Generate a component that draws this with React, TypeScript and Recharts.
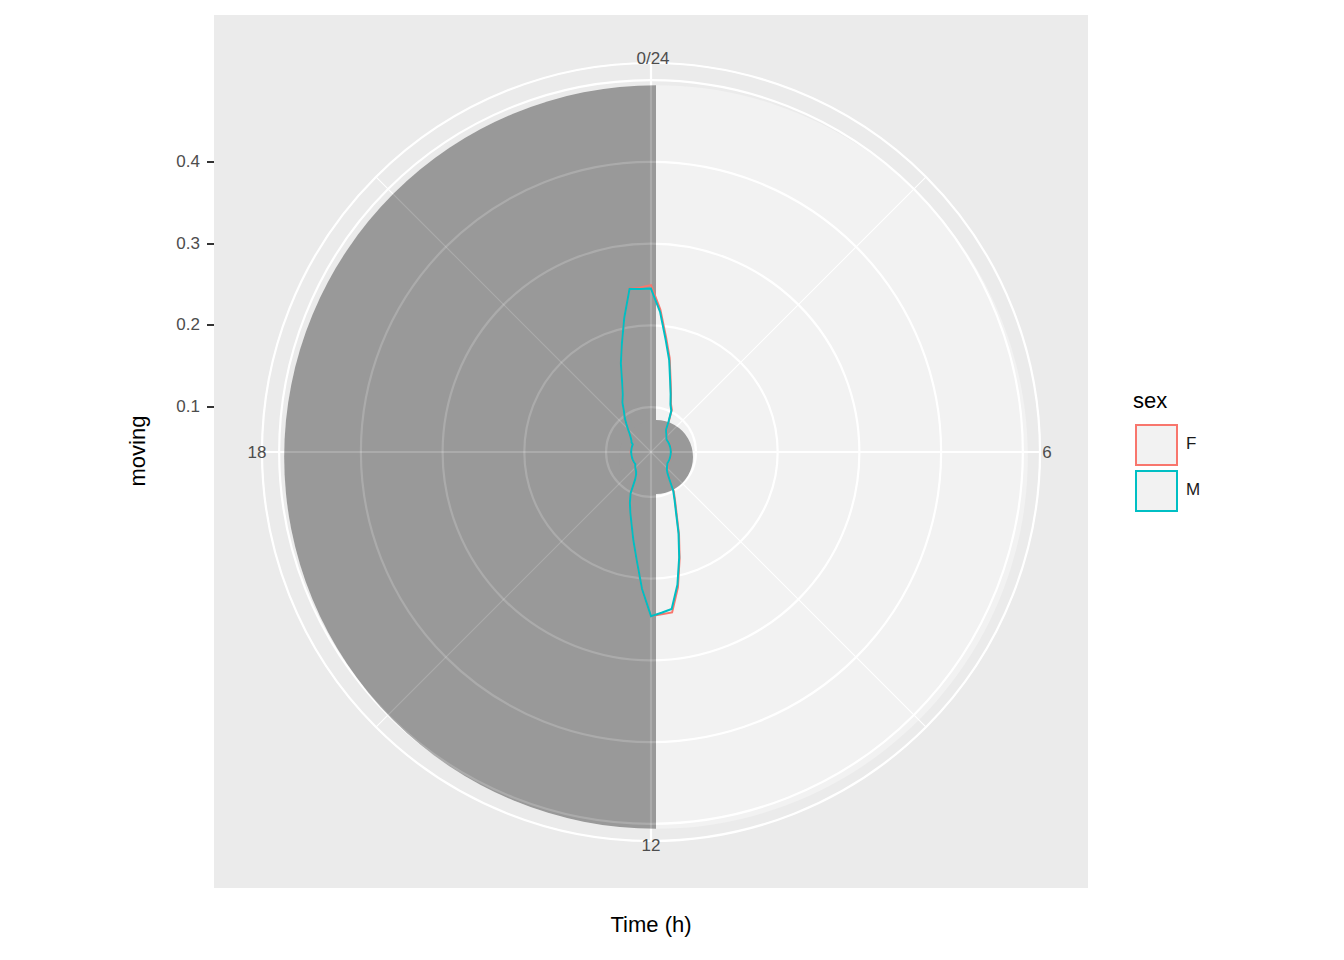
import { RadarChart, Radar, PolarGrid, PolarAngleAxis, PolarRadiusAxis, PieChart, Pie } from 'recharts';

// quarter-hour bins, 0 .. 23.75 h
const hours = Array.from({ length: 96 }, (_, i) => i / 4);

const movingF = [
  0.429, 0.367, 0.297, 0.246, 0.194, 0.160, 0.134, 0.121, 0.092, 0.071, 0.066, 0.061,
  0.057, 0.054, 0.052, 0.052, 0.052, 0.052, 0.052, 0.052, 0.052, 0.052, 0.052, 0.052,
  0.052, 0.052, 0.052, 0.052, 0.052, 0.052, 0.052, 0.052, 0.052, 0.052, 0.054, 0.056,
  0.060, 0.063, 0.072, 0.088, 0.117, 0.140, 0.172, 0.224, 0.284, 0.355, 0.416, 0.418,
  0.422, 0.354, 0.282, 0.232, 0.194, 0.165, 0.143, 0.121, 0.083, 0.070, 0.063, 0.060,
  0.057, 0.054, 0.052, 0.052, 0.052, 0.052, 0.052, 0.052, 0.052, 0.052, 0.052, 0.052,
  0.052, 0.052, 0.052, 0.052, 0.052, 0.052, 0.052, 0.056, 0.058, 0.062, 0.067, 0.074,
  0.084, 0.096, 0.111, 0.125, 0.147, 0.164, 0.194, 0.241, 0.289, 0.352, 0.425, 0.424,
];

const movingM = [
  0.420, 0.360, 0.290, 0.240, 0.190, 0.157, 0.131, 0.118, 0.090, 0.070, 0.064, 0.060,
  0.056, 0.053, 0.051, 0.051, 0.051, 0.051, 0.051, 0.051, 0.051, 0.051, 0.051, 0.051,
  0.051, 0.051, 0.051, 0.051, 0.051, 0.051, 0.051, 0.051, 0.051, 0.051, 0.053, 0.055,
  0.058, 0.062, 0.070, 0.086, 0.114, 0.137, 0.168, 0.220, 0.280, 0.348, 0.407, 0.414,
  0.422, 0.353, 0.281, 0.232, 0.193, 0.165, 0.142, 0.119, 0.082, 0.069, 0.063, 0.060,
  0.057, 0.054, 0.051, 0.051, 0.051, 0.051, 0.051, 0.051, 0.051, 0.051, 0.051, 0.051,
  0.051, 0.051, 0.051, 0.051, 0.051, 0.051, 0.051, 0.056, 0.058, 0.062, 0.067, 0.074,
  0.084, 0.096, 0.111, 0.125, 0.147, 0.164, 0.194, 0.241, 0.289, 0.352, 0.423, 0.420,
];

const radiusTicks = [0.1, 0.2, 0.3, 0.4];
const angleLabels = ['0/24', '6', '12', '18'];

const W = 1344;
const H = 960;
const CX = 651;
const CY = 452;
const R = 389;
const DOMAIN: [number, number] = [0.045, 0.521];
const rad = (v: number) => ((v - DOMAIN[0]) / (DOMAIN[1] - DOMAIN[0])) * R;

const data = hours.map((h, i) => ({ h, F: movingF[i], M: movingM[i] }));
const gridRadii = [0.1, 0.2, 0.3, 0.4, 0.5].map(rad).concat([R]);
const one = [{ v: 1 }];

const font = '"Liberation Sans", Arial, sans-serif';
const layer: React.CSSProperties = { position: 'absolute', left: 0, top: 0 };

function Grid({ opacity }: { opacity: number }) {
  return (
    <>
      <PolarGrid gridType="circle" polarAngles={[90, 0, -90, 180]} polarRadius={gridRadii}
        stroke="#ffffff" strokeOpacity={opacity} strokeWidth={2.2} />
      <PolarGrid gridType="circle" polarAngles={[45, -45, 135, -135]} polarRadius={[R]}
        stroke="#ffffff" strokeOpacity={opacity} strokeWidth={1.1} />
    </>
  );
}

function Axes() {
  return (
    <>
      <PolarAngleAxis dataKey="h" tick={false} axisLine={false} tickLine={false} />
      <PolarRadiusAxis type="number" domain={DOMAIN} tick={false} axisLine={false} />
    </>
  );
}

export default function App() {
  const tickStyle: React.CSSProperties = { position: 'absolute', fontSize: 17, color: '#4d4d4d', lineHeight: '20px' };
  const angPos = [
    { x: 653, y: 59 }, { x: 1047, y: 453 }, { x: 651, y: 846 }, { x: 257, y: 453 },
  ];
  return (
    <div style={{ position: 'absolute', left: 0, top: 0, width: W, height: H, background: '#fff', fontFamily: font }}>
      <div style={{ position: 'absolute', left: 214, top: 15, width: 874, height: 873, background: '#ebebeb' }} />

      <PieChart width={W} height={H} style={layer}>
        <Pie data={one} dataKey="v" cx={CX} cy={CY} innerRadius={0} outerRadius={rad(0.5)}
          startAngle={0} endAngle={360} fill="#f2f2f2" stroke="none" isAnimationActive={false} />
      </PieChart>

      <RadarChart width={W} height={H} data={data} cx={CX} cy={CY} outerRadius={R} style={layer}>
        <Axes />
        <Grid opacity={1} />
      </RadarChart>

      <PieChart width={W} height={H} style={layer}>
        <Pie data={one} dataKey="v" cx={CX} cy={CY} innerRadius={0} outerRadius={rad(0.5)}
          startAngle={90} endAngle={270} fill="#999999" stroke="none" isAnimationActive={false} />
        <Pie data={one} dataKey="v" cx={CX} cy={CY} innerRadius={0} outerRadius={37}
          startAngle={0} endAngle={360} fill="#999999" stroke="none" isAnimationActive={false} />
      </PieChart>

      <RadarChart width={W} height={H} data={data} cx={CX} cy={CY} outerRadius={R} style={layer}>
        <Axes />
        <Grid opacity={0.18} />
        <Radar dataKey="F" stroke="#F8766D" strokeWidth={2} fill="none" fillOpacity={0} dot={false} isAnimationActive={false} />
        <Radar dataKey="M" stroke="#00BFC4" strokeWidth={2} fill="none" fillOpacity={0} dot={false} isAnimationActive={false} />
      </RadarChart>

      {angleLabels.map((t, i) => (
        <div key={t} style={{ ...tickStyle, left: angPos[i].x - 30, top: angPos[i].y - 10, width: 60, textAlign: 'center' }}>{t}</div>
      ))}

      {radiusTicks.map((v) => (
        <div key={v}>
          <div style={{ ...tickStyle, left: 140, top: CY - rad(v) - 10, width: 60, textAlign: 'right' }}>{v.toFixed(1)}</div>
          <div style={{ position: 'absolute', left: 207, top: CY - rad(v) - 1, width: 7, height: 2, background: '#333' }} />
        </div>
      ))}

      <div style={{ position: 'absolute', left: 138 - 60, top: CY - 14, width: 120, textAlign: 'center', fontSize: 22, transform: 'rotate(-90deg)' }}>moving</div>
      <div style={{ position: 'absolute', left: CX - 100, top: 912, width: 200, textAlign: 'center', fontSize: 22 }}>Time (h)</div>

      <div style={{ position: 'absolute', left: 1133, top: 388, fontSize: 22 }}>sex</div>
      {[{ k: 'F', c: '#F8766D', y: 424 }, { k: 'M', c: '#00BFC4', y: 470 }].map((e) => (
        <div key={e.k}>
          <div style={{ position: 'absolute', left: 1135, top: e.y, width: 39, height: 38, background: '#f2f2f2', border: `2px solid ${e.c}` }} />
          <div style={{ position: 'absolute', left: 1186, top: e.y + 10, fontSize: 17, color: '#1a1a1a', lineHeight: '20px' }}>{e.k}</div>
        </div>
      ))}
    </div>
  );
}
